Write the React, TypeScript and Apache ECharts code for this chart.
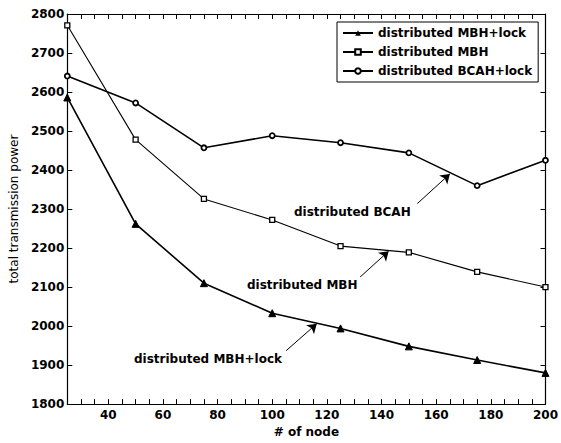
import React, { useEffect, useRef } from "react";
import * as echarts from "echarts";

const nodes = [25, 50, 75, 100, 125, 150, 175, 200];
const mbhLock = [2586, 2262, 2110, 2033, 1994, 1948, 1913, 1880];
const mbh = [2771, 2478, 2326, 2272, 2205, 2189, 2139, 2100];
const bcahLock = [2641, 2572, 2457, 2488, 2470, 2444, 2360, 2425];
const seriesNames = ["distributed MBH+lock", "distributed MBH", "distributed BCAH+lock"];
const annotationTexts = ["distributed BCAH", "distributed MBH", "distributed MBH+lock"];
// arrows: [from, to] in data coordinates
const arrowBCAH = [[153.1, 2314], [165, 2390]];
const arrowMBH = [[132.2, 2126], [142.6, 2192]];
const arrowLock = [[105.1, 1937], [116.3, 2006]];

const FONT = "DejaVu Sans";

export default function App() {
  const ref = useRef<HTMLDivElement>(null);
  useEffect(() => {
    if (!ref.current) return;
    const chart = echarts.init(ref.current, null, { renderer: "svg" });
    const tickFn = (_i: number, v: any) => Number(v) % 20 === 0;
    const arrowLine = (a: number[][]) => [{ coord: a[0] }, { coord: a[1] }];
    chart.setOption({
      animation: false,
      backgroundColor: "#fff",
      grid: { left: 63, right: 13, top: 14, bottom: 36, containLabel: false },
      legend: {
        data: seriesNames,
        orient: "vertical",
        left: 337,
        top: 22,
        padding: [4, 6, 4, 5],
        itemGap: 5,
        itemWidth: 30,
        itemHeight: 7,
        borderColor: "#000",
        borderWidth: 1,
        backgroundColor: "#fff",
        selectedMode: false,
        textStyle: { fontFamily: FONT, fontWeight: "bold", fontSize: 12, color: "#000", lineHeight: 14 },
      },
      xAxis: [
        {
          type: "value",
          min: 25,
          max: 200,
          interval: 5,
          name: "# of node",
          nameLocation: "middle",
          nameGap: 18,
          nameTextStyle: { fontFamily: FONT, fontWeight: "bold", fontSize: 12, color: "#000" },
          axisLine: { lineStyle: { color: "#000", width: 1.2 } },
          axisTick: { inside: true, length: 5, interval: tickFn, lineStyle: { color: "#000" } },
          axisLabel: {
            interval: tickFn,
            formatter: (v: number) => (v % 20 === 0 ? String(v) : ""),
            margin: 5,
            fontFamily: FONT,
            fontWeight: "bold",
            fontSize: 12,
            color: "#000",
          },
          splitLine: { show: false },
        },
        {
          type: "value",
          position: "top",
          min: 25,
          max: 200,
          interval: 5,
          axisLine: { lineStyle: { color: "#000", width: 1.2 } },
          axisTick: { inside: true, length: 5, interval: tickFn, lineStyle: { color: "#000" } },
          axisLabel: { show: false },
          splitLine: { show: false },
        },
      ],
      yAxis: [
        {
          type: "value",
          min: 1800,
          max: 2800,
          interval: 100,
          name: "total transmission power",
          nameLocation: "middle",
          nameRotate: 90,
          nameGap: 44,
          nameTextStyle: { fontFamily: FONT, fontSize: 12, color: "#000" },
          axisLine: { lineStyle: { color: "#000", width: 1.2 } },
          axisTick: { inside: true, length: 5, lineStyle: { color: "#000" } },
          axisLabel: {
            margin: 3,
            formatter: (v: number) => String(v),
            fontFamily: FONT,
            fontWeight: "bold",
            fontSize: 12,
            color: "#000",
          },
          splitLine: { show: false },
        },
        {
          type: "value",
          position: "right",
          min: 1800,
          max: 2800,
          interval: 100,
          axisLine: { show: true, lineStyle: { color: "#000", width: 1.2 } },
          axisTick: { show: true, inside: true, length: 5, lineStyle: { color: "#000" } },
          axisLabel: { show: false },
          splitLine: { show: false },
        },
      ],
      series: [
        {
          name: seriesNames[0],
          type: "line",
          data: nodes.map((x, i) => [x, mbhLock[i]]),
          symbol: "triangle",
          symbolSize: 7,
          showAllSymbol: true,
          lineStyle: { color: "#000", width: 1.6 },
          itemStyle: { color: "#000", borderColor: "#000" },
          z: 3,
        },
        {
          name: seriesNames[1],
          type: "line",
          data: nodes.map((x, i) => [x, mbh[i]]),
          symbol: "rect",
          symbolSize: 5,
          showAllSymbol: true,
          lineStyle: { color: "#000", width: 1.1 },
          itemStyle: { color: "#fff", borderColor: "#000", borderWidth: 1.3 },
          z: 3,
        },
        {
          name: seriesNames[2],
          type: "line",
          data: nodes.map((x, i) => [x, bcahLock[i]]),
          symbol: "circle",
          symbolSize: 5,
          showAllSymbol: true,
          lineStyle: { color: "#000", width: 1.6 },
          itemStyle: { color: "#fff", borderColor: "#000", borderWidth: 1.8 },
          z: 3,
        },
        {
          name: "arrows",
          type: "line",
          data: [],
          silent: true,
          markLine: {
            silent: true,
            symbol: ["none", "arrow"],
            symbolSize: 9,
            label: { show: false },
            lineStyle: { color: "#000", width: 1, type: "solid" },
            itemStyle: { color: "#000" },
            emphasis: { disabled: true },
            data: [arrowLine(arrowLock), arrowLine(arrowMBH), arrowLine(arrowBCAH)],
          },
        },
      ],
      graphic: [
        {
          type: "text",
          left: 294,
          top: 206,
          style: { text: annotationTexts[0], font: `bold 12px "${FONT}"`, fill: "#000" },
        },
        {
          type: "text",
          left: 247,
          top: 279,
          style: { text: annotationTexts[1], font: `bold 12px "${FONT}"`, fill: "#000" },
        },
        {
          type: "text",
          left: 134,
          top: 353,
          style: { text: annotationTexts[2], font: `bold 12px "${FONT}"`, fill: "#000" },
        },
      ],
    });
    return () => chart.dispose();
  }, []);
  return (
    <div
      ref={ref}
      style={{ position: "fixed", left: 0, top: 0, width: 561, height: 443, background: "#fff" }}
    />
  );
}
